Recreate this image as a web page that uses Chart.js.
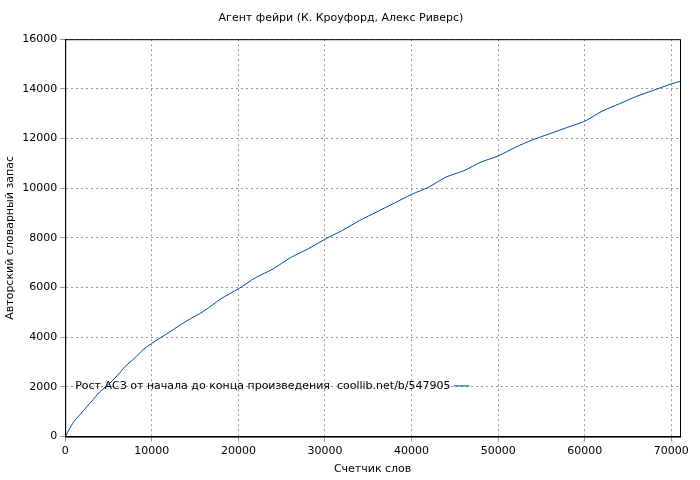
<!DOCTYPE html>
<html>
<head>
<meta charset="utf-8">
<script src="https://cdn.jsdelivr.net/npm/chart.js@4"></script>
<style>
  body { margin: 0; background: #fff; }
</style>
</head>
<body>
<canvas id="c" width="700" height="480"></canvas>
<script>
// words counted / author vocabulary
const words = [0, 1000, 2000, 3000, 4000, 5000, 6000, 7000, 8000, 9000, 10000, 12000, 14000, 16000, 18000, 20000,
  22000, 24000, 26000, 28000, 30000, 32000, 34000, 36000, 38000, 40000, 42000, 44000, 46000, 48000, 50000,
  52000, 54000, 56000, 58000, 60000, 62000, 64000, 66000, 68000, 70000, 71000];
const vocab = [0, 600, 1000, 1400, 1800, 2100, 2450, 2850, 3150, 3500, 3750, 4200, 4650, 5050, 5550, 5950,
  6400, 6750, 7200, 7550, 7950, 8300, 8700, 9050, 9400, 9750, 10050, 10450, 10700, 11050, 11300,
  11650, 11950, 12200, 12450, 12700, 13100, 13400, 13700, 13950, 14200, 14300];
const xTicks = [0, 10000, 20000, 30000, 40000, 50000, 60000, 70000];

Chart.defaults.font.family = 'DejaVu Sans';
Chart.defaults.font.size = 11;
Chart.defaults.color = '#000';

const grid = { color: '#999', tickLength: 5 };
const border = { color: '#000', dash: [2, 3] };

// frame around the plot area, as in gnuplot
const frame = {
  id: 'frame',
  afterDraw(chart) {
    const a = chart.chartArea, ctx = chart.ctx;
    ctx.save();
    ctx.strokeStyle = '#000';
    ctx.lineWidth = 1;
    ctx.strokeRect(a.left + 0.5, a.top + 0.5, a.right - a.left, a.bottom - a.top);
    ctx.restore();
  }
};

new Chart('c', {
  type: 'line',
  data: {
    datasets: [{
      label: 'Рост АСЗ от начала до конца произведения  coollib.net/b/547905',
      data: words.map((w, i) => ({ x: w, y: vocab[i] })),
      borderColor: '#0046ad',
      backgroundColor: '#0046ad',
      borderWidth: 1,
      pointRadius: 0,
      tension: 0.3
    }]
  },
  options: {
    responsive: false,
    animation: false,
    layout: { padding: { right: 20, top: 0, left: 2, bottom: 2 } },
    plugins: {
      title: { display: true, text: 'Агент фейри (К. Кроуфорд, Алекс Риверс)', font: { weight: 'normal', size: 11 }, padding: { top: 12, bottom: 14 } },
      legend: {
        position: 'chartArea',
        align: 'end',
        rtl: true,
        labels: { usePointStyle: true, pointStyle: 'line', boxWidth: 36, padding: 6 }
      },
      tooltip: { enabled: false }
    },
    scales: {
      x: {
        type: 'linear', min: 0, max: 71000,
        afterBuildTicks: s => { s.ticks = xTicks.map(v => ({ value: v })); },
        grid: grid,
        border: border,
        ticks: { maxRotation: 0, callback: v => String(v) },
        title: { display: true, text: 'Счетчик слов', padding: 2 }
      },
      y: {
        min: 0, max: 16000,
        ticks: { stepSize: 2000, callback: v => String(v) },
        grid: grid,
        border: border,
        title: { display: true, text: 'Авторский словарный запас', padding: 2 }
      }
    }
  },
  plugins: [frame]
});
</script>
</body>
</html>
